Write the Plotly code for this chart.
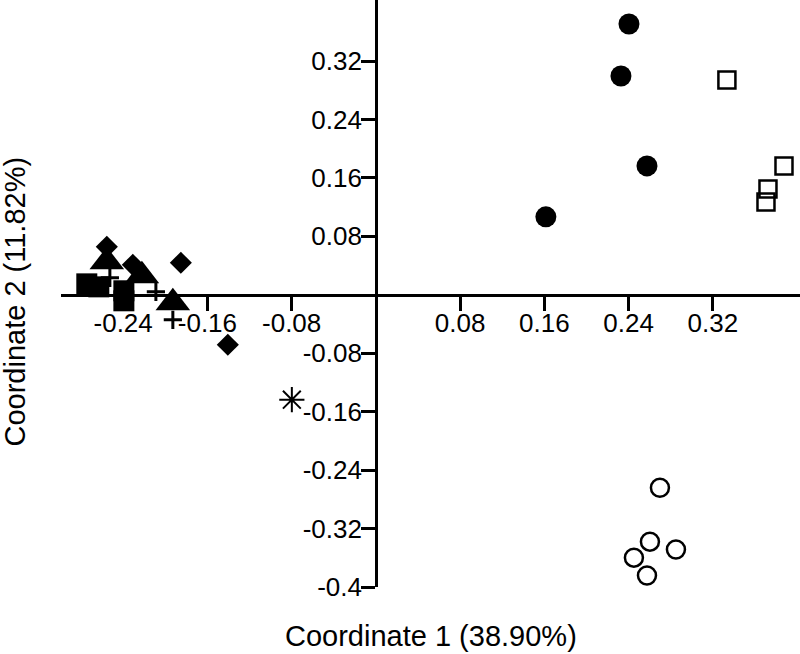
import plotly.graph_objects as go

# ---- data ----
filled_circle_x = [0.2403, 0.2327, 0.2574, 0.1614]
filled_circle_y = [0.3707, 0.2996, 0.1765, 0.1067]

open_square_x = [0.3333, 0.3875, 0.3723, 0.3704]
open_square_y = [0.2941, 0.1765, 0.1450, 0.1272]

open_circle_x = [0.2697, 0.2602, 0.2849, 0.2450, 0.2574]
open_circle_y = [-0.2640, -0.3379, -0.3488, -0.3598, -0.3844]

asterisk_x = [-0.0798]
asterisk_y = [-0.1436]

diamond_x = [-0.2555, -0.2308, -0.1852, -0.1406]
diamond_y = [0.0657, 0.0410, 0.0438, -0.0684]

triangle_x = [-0.2555, -0.2222, -0.1928]
triangle_y = [0.0451, 0.0260, -0.0109]

filled_square_x = [-0.2745, -0.2631, -0.2393, -0.2393]
filled_square_y = [0.0150, 0.0109, 0.0055, -0.0082]

plus_x = [-0.2526, -0.2089, -0.1928]
plus_y = [0.0233, 0.0041, -0.0342]

x_tickvals = [-0.24, -0.16, -0.08, 0.08, 0.16, 0.24, 0.32]
x_ticktext = ["-0.24", "-0.16", "-0.08", "0.08", "0.16", "0.24", "0.32"]
y_tickvals = [0.32, 0.24, 0.16, 0.08, -0.08, -0.16, -0.24, -0.32, -0.4]
y_ticktext = ["0.32", "0.24", "0.16", "0.08", "-0.08", "-0.16", "-0.24", "-0.32", "-0.4"]

x_range = [-0.299, 0.4027]
y_range = [-0.4, 0.4036]

FONT = "Liberation Sans, Arial, sans-serif"

fig = go.Figure()

def add(x, y, symbol, size, lw=0, lc="black", fc="black"):
    fig.add_trace(go.Scatter(
        x=x, y=y, mode="markers",
        marker=dict(symbol=symbol, size=size, color=fc,
                    line=dict(width=lw, color=lc)),
        showlegend=False, hoverinfo="skip"))

add(filled_square_x, filled_square_y, "square", 21)
add(triangle_x, triangle_y, "triangle-up", 30)
add(diamond_x, diamond_y, "diamond", 17)
add(plus_x, plus_y, "cross-thin-open", 13, lw=3)
add(asterisk_x, asterisk_y, "asterisk-open", 21, lw=2)
add(filled_circle_x, filled_circle_y, "circle", 21)
add(open_square_x, open_square_y, "square-open", 17, lw=2.5)
add(open_circle_x, open_circle_y, "circle-open", 18, lw=2.5)

x_pos = (0 - y_range[0]) / (y_range[1] - y_range[0])
y_pos = (0 - x_range[0]) / (x_range[1] - x_range[0])

fig.update_layout(
    width=800, height=654,
    margin=dict(l=61, r=0, t=0, b=67),
    paper_bgcolor="white", plot_bgcolor="white",
    font=dict(family=FONT, size=26, color="black"),
    xaxis=dict(range=x_range, anchor="free", position=x_pos,
               showline=True, linecolor="black", linewidth=2.5,
               ticks="outside", ticklen=14, tickwidth=2.5, tickcolor="black",
               tickvals=x_tickvals, ticktext=x_ticktext,
               ticklabelstandoff=-10,
               showgrid=False, zeroline=False,
               tickfont=dict(family=FONT, size=26, color="black")),
    yaxis=dict(range=y_range, anchor="free", position=y_pos,
               showline=True, linecolor="black", linewidth=2.5,
               ticks="outside", ticklen=14, tickwidth=2.5, tickcolor="black",
               tickvals=y_tickvals, ticktext=y_ticktext,
               ticklabelstandoff=-6,
               showgrid=False, zeroline=False,
               tickfont=dict(family=FONT, size=26, color="black")),
    annotations=[
        dict(text="Coordinate 1 (38.90%)", xref="paper", yref="paper",
             x=0.5, y=0, xanchor="center", yanchor="middle", yshift=-49,
             showarrow=False, font=dict(family=FONT, size=29, color="black")),
        dict(text="Coordinate 2 (11.82%)", xref="paper", yref="paper",
             x=0, y=0.5, xanchor="center", yanchor="middle", xshift=-47, yshift=-8,
             textangle=-90, showarrow=False,
             font=dict(family=FONT, size=29, color="black")),
    ],
)

fig.write_html("out.html",
               config={"displayModeBar": False},
               post_script="document.body.style.margin='0px';document.body.style.overflow='hidden';")
